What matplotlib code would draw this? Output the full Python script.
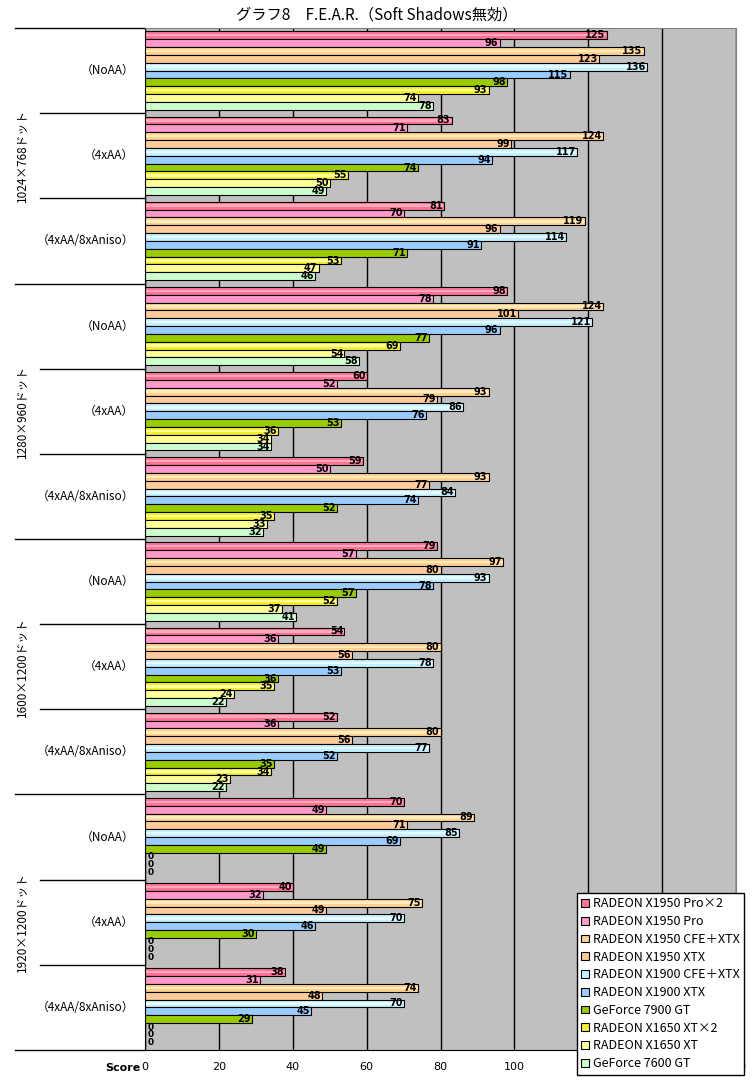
import matplotlib
matplotlib.use("Agg")
import matplotlib.pyplot as plt
from matplotlib.patches import Patch

plt.rcParams['font.family'] = ['Noto Sans CJK JP', 'DejaVu Sans']

# chart data
title = "グラフ8　F.E.A.R.（Soft Shadows無効）"
resolutions = ["1024×768ドット", "1280×960ドット", "1600×1200ドット", "1920×1200ドット"]
settings = ["（NoAA）", "（4xAA）", "（4xAA/8xAniso）"]

series_names = [
    "RADEON X1950 Pro×2",
    "RADEON X1950 Pro",
    "RADEON X1950 CFE＋XTX",
    "RADEON X1950 XTX",
    "RADEON X1900 CFE＋XTX",
    "RADEON X1900 XTX",
    "GeForce 7900 GT",
    "RADEON X1650 XT×2",
    "RADEON X1650 XT",
    "GeForce 7600 GT",
]

# one value per group, groups in order: 1024 NoAA, 4xAA, 4xAA/8xAniso, 1280 ..., 1600 ..., 1920 ...
x1950pro_x2 = [125, 83, 81, 98, 60, 59, 79, 54, 52, 70, 40, 38]
x1950pro = [96, 71, 70, 78, 52, 50, 57, 36, 36, 49, 32, 31]
x1950cfe = [135, 124, 119, 124, 93, 93, 97, 80, 80, 89, 75, 74]
x1950xtx = [123, 99, 96, 101, 79, 77, 80, 56, 56, 71, 49, 48]
x1900cfe = [136, 117, 114, 121, 86, 84, 93, 78, 77, 85, 70, 70]
x1900xtx = [115, 94, 91, 96, 76, 74, 78, 53, 52, 69, 46, 45]
gf7900gt = [98, 74, 71, 77, 53, 52, 57, 36, 35, 49, 30, 29]
x1650_x2 = [93, 55, 53, 69, 36, 35, 52, 35, 34, 0, 0, 0]
x1650xt = [74, 50, 47, 54, 34, 33, 37, 24, 23, 0, 0, 0]
gf7600gt = [78, 49, 46, 58, 34, 32, 41, 22, 22, 0, 0, 0]

all_series = [x1950pro_x2, x1950pro, x1950cfe, x1950xtx, x1900cfe,
              x1900xtx, gf7900gt, x1650_x2, x1650xt, gf7600gt]

colors = ["#FF7396", "#FF99CC", "#FFD38F", "#FFCC99", "#C4F0FF",
          "#99CCFF", "#99CC00", "#F2F030", "#FFFF99", "#CCFFCC"]
# lighter middle stripe for the bars that have a gradient
highlights = ["#FFA8BC", None, "#FFEBBB", None, "#E6FBFF",
              None, None, "#FFFF99", None, None]

fig = plt.figure(figsize=(7.53, 10.83), dpi=100)
W, H = 753, 1083
ax_left, ax_right, ax_top, ax_bottom = 145, 736, 28, 1050
ax = fig.add_axes([ax_left / W, 1 - ax_bottom / H,
                   (ax_right - ax_left) / W, (ax_bottom - ax_top) / H])
ax.set_facecolor("#C0C0C0")

n_groups = len(x1950pro_x2)
n_series = len(all_series)
gap = 0.04
bh = (1 - 2 * gap) / n_series

for i, vals in enumerate(all_series):
    ys = [g + gap + (i + 0.5) * bh for g in range(n_groups)]
    ax.barh(ys, vals, height=bh, color=colors[i], edgecolor="black",
            linewidth=0.8, zorder=3)
    if highlights[i]:
        ax.barh(ys, [max(v - 0.4, 0) for v in vals], left=0.2, height=bh * 0.3,
                color=highlights[i], linewidth=0, zorder=4)
    for y, v in zip(ys, vals):
        if v > 0:
            ax.text(v - 0.3, y, str(v), ha="right", va="center", fontsize=7,
                    fontweight="bold", family="DejaVu Sans", zorder=5)
        else:
            ax.text(0.6, y, "0", ha="left", va="center", fontsize=6.5,
                    fontweight="bold", family="DejaVu Sans", zorder=5)

ax.set_xlim(0, 160)
ax.set_ylim(n_groups, 0)
ax.set_xticks(range(0, 161, 20))
ax.set_xticklabels([str(t) for t in range(0, 161, 20)], family="DejaVu Sans")
ax.tick_params(axis="x", length=0, pad=9, labelsize=8)
ax.set_yticks([])
ax.set_axisbelow(True)
ax.xaxis.grid(True, color="black", linewidth=1)

for side in ["top", "right"]:
    ax.spines[side].set_color("#808080")
ax.spines["left"].set_color("black")
ax.spines["bottom"].set_color("black")

# category axis lines and labels
ytr = ax.get_yaxis_transform()
width_px = ax_right - ax_left
for g in range(n_groups + 1):
    if g % 3 == 0:
        x0 = (15 - ax_left) / width_px
    else:
        x0 = (40 - ax_left) / width_px
    ax.plot([x0, 0], [g, g], color="black", linewidth=1, transform=ytr,
            clip_on=False)

for g in range(n_groups):
    ax.text((134 - ax_left) / width_px, g + 0.5, settings[g % 3], transform=ytr,
            ha="right", va="center", fontsize=8.5)

for r, name in enumerate(resolutions):
    ax.text((23 - ax_left) / width_px, r * 3 + 1.5, name, transform=ytr,
            ha="center", va="center", rotation=90, fontsize=8.5)

fig.text(140 / W, 1 - 1068 / H, "Score", ha="right", va="center",
         fontsize=8, fontweight="bold", family="DejaVu Sans")

fig.text(0.5, 1 - 15 / H, title, ha="center", va="center", fontsize=11)

handles = [Patch(facecolor=c, edgecolor="black", linewidth=0.8) for c in colors]
leg = fig.legend(handles, series_names, loc="upper left",
                 bbox_to_anchor=(577 / W, 1 - 893 / H), borderaxespad=0,
                 fontsize=9, frameon=True, fancybox=False, framealpha=1,
                 edgecolor="black", handlelength=0.6, handleheight=0.6,
                 handletextpad=0.3, labelspacing=0.38, borderpad=0.35)
leg.get_frame().set_linewidth(1)
leg.set_zorder(10)

fig.savefig("out.png", dpi=100)
